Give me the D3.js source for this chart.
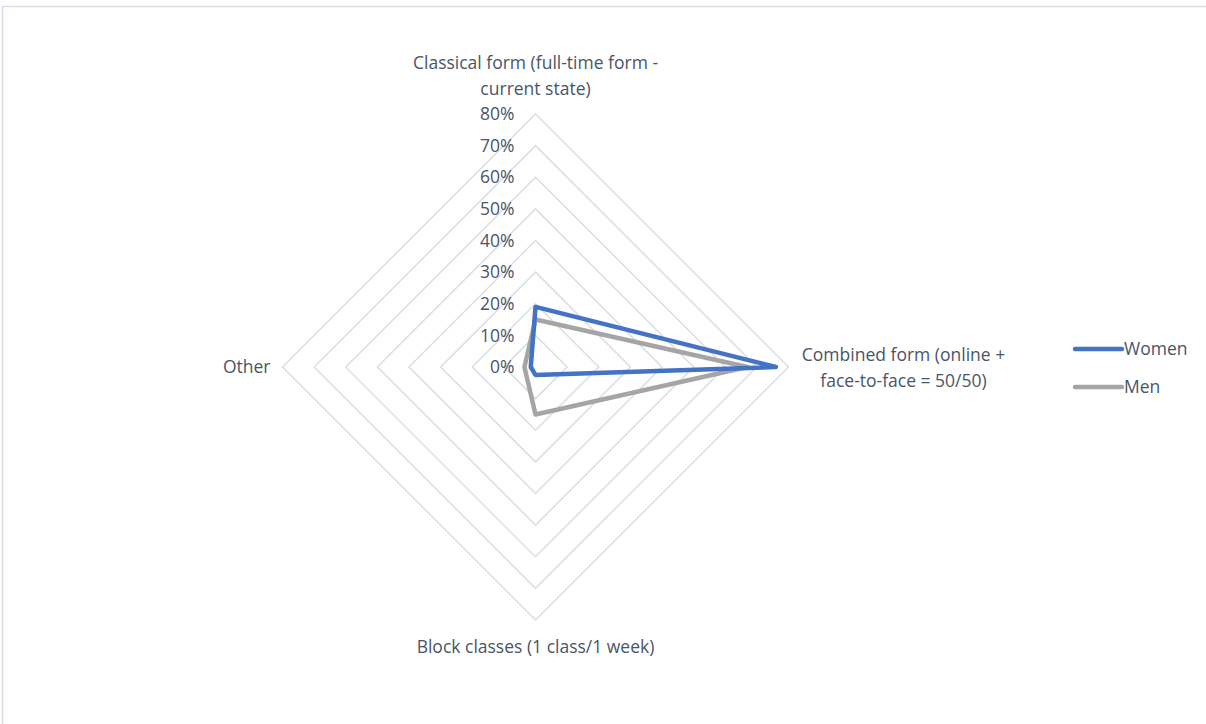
<!DOCTYPE html>
<html>
<head>
<meta charset="utf-8">
<script src="https://cdn.jsdelivr.net/npm/d3@7"></script>
<style>
  html, body { margin: 0; padding: 0; background: #fff; }
  svg { display: block; font-family: "Open Sans", Lato, sans-serif; }
</style>
</head>
<body>
<div id="chart"></div>
<script>
// axis labels (clockwise from top), each line kept separately
const categories = [
  ["Classical form (full-time form -", "current state)"],
  ["Combined form (online +", "face-to-face = 50/50)"],
  ["Block classes (1 class/1 week)"],
  ["Other"]
];
const women = [0.19, 0.76, 0.025, 0.015];
const men = [0.15, 0.67, 0.15, 0.035];
const seriesNames = ["Women", "Men"];
const ticks = [0, 0.1, 0.2, 0.3, 0.4, 0.5, 0.6, 0.7, 0.8];

const width = 1206, height = 724;
const cx = 535.5, cy = 367;
const colors = { Women: "#4472c4", Men: "#a5a5a5" };
const textColor = "#4a5567";
const gridColor = "#d9dde6";
const fontSize = 17.5;

const svg = d3.select("#chart").append("svg")
  .attr("width", width)
  .attr("height", height);

// chart area border
svg.append("rect")
  .attr("x", 2.5).attr("y", 6.5)
  .attr("width", width + 10).attr("height", height + 10)
  .attr("fill", "none")
  .attr("stroke", gridColor)
  .attr("stroke-width", 1.5);

const r = d3.scaleLinear().domain([0, 0.8]).range([0, 253]);
const angle = d3.scalePoint()
  .domain(d3.range(categories.length))
  .range([0, 2 * Math.PI * (categories.length - 1) / categories.length]);

const g = svg.append("g").attr("transform", `translate(${cx},${cy})`);

const radial = d3.lineRadial()
  .angle((d, i) => angle(i))
  .radius(d => r(d))
  .curve(d3.curveLinearClosed);

// grid rings
g.append("g").attr("class", "grid")
  .selectAll("path")
  .data(ticks.slice(1))
  .join("path")
  .attr("d", t => radial(categories.map(() => t)))
  .attr("fill", "none")
  .attr("stroke", gridColor)
  .attr("stroke-width", 1.5);

// tick labels
g.append("g").attr("class", "ticks")
  .selectAll("text")
  .data(ticks)
  .join("text")
  .attr("x", -21)
  .attr("y", t => -r(t))
  .attr("dy", "0.35em")
  .attr("text-anchor", "end")
  .attr("fill", textColor)
  .attr("font-size", fontSize)
  .text(d3.format(".0%"));

// series
const series = [
  { name: "Women", values: women },
  { name: "Men", values: men }
];
g.append("g").attr("class", "series")
  .selectAll("path")
  .data(series.slice().reverse())
  .join("path")
  .attr("d", s => radial(s.values))
  .attr("fill", "none")
  .attr("stroke", s => colors[s.name])
  .attr("stroke-width", 4.5)
  .attr("stroke-linejoin", "round");

// category labels
const labelPos = [
  { x: 0, y: -r(0.8) - 50, anchor: "middle" },
  { x: r(0.8) + 115, y: -11, anchor: "middle" },
  { x: 0, y: r(0.8) + 28, anchor: "middle" },
  { x: -r(0.8) - 12, y: 1, anchor: "end" }
];
const lab = g.append("g").attr("class", "labels")
  .selectAll("text")
  .data(categories)
  .join("text")
  .attr("x", (d, i) => labelPos[i].x)
  .attr("y", (d, i) => labelPos[i].y)
  .attr("text-anchor", (d, i) => labelPos[i].anchor)
  .attr("dominant-baseline", "middle")
  .attr("fill", textColor)
  .attr("font-size", fontSize);
lab.selectAll("tspan")
  .data((d, i) => d.map(line => ({ line, x: labelPos[i].x })))
  .join("tspan")
  .attr("x", d => d.x)
  .attr("dy", (d, j) => j === 0 ? 0 : 26)
  .text(d => d.line);

// legend
const legend = svg.append("g").attr("class", "legend")
  .selectAll("g")
  .data(seriesNames)
  .join("g")
  .attr("transform", (d, i) => `translate(1075,${349 + i * 38})`);
legend.append("line")
  .attr("x1", 0).attr("x2", 47)
  .attr("stroke", d => colors[d])
  .attr("stroke-width", 4.5)
  .attr("stroke-linecap", "round");
legend.append("text")
  .attr("x", 49)
  .attr("dy", "0.35em")
  .attr("fill", textColor)
  .attr("font-size", fontSize)
  .text(d => d);
</script>
</body>
</html>
